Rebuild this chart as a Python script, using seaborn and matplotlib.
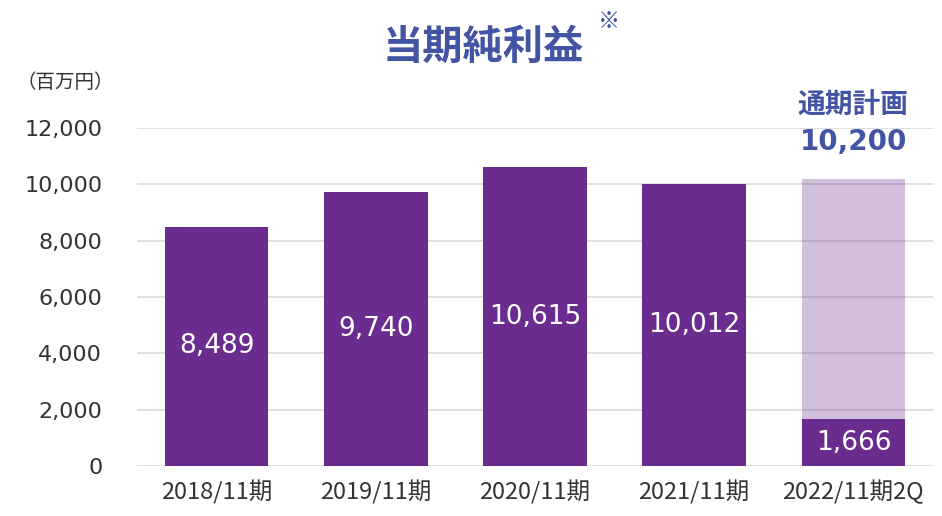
import matplotlib
matplotlib.use("Agg")
import matplotlib.pyplot as plt
import seaborn as sns
import pandas as pd

# data
periods = ["2018/11期", "2019/11期", "2020/11期", "2021/11期", "2022/11期2Q"]
net_income = [8489, 9740, 10615, 10012, 1666]
plan_period = "2022/11期2Q"
plan_value = 10200
y_ticks = [0, 2000, 4000, 6000, 8000, 10000, 12000]

DARK = "#6a2c8e"
BLUE = "#4454a4"
JP = ["Noto Sans CJK JP", "DejaVu Sans"]

sns.set_theme(style="white")
plt.rcParams["font.family"] = JP

df = pd.DataFrame({"period": periods, "value": net_income})
plan_df = pd.DataFrame({"period": [plan_period], "value": [plan_value]})

fig = plt.figure(figsize=(9.42, 5.16), dpi=100)
ax = fig.add_axes([137 / 942, 1 - 466 / 516, (933 - 137) / 942, (466 - 128) / 516])

# plan bar (light, behind) then actual bars
sns.barplot(data=plan_df, x="period", y="value", order=periods, color=DARK,
            alpha=0.3, width=0.65, saturation=1, linewidth=0, ax=ax)
sns.barplot(data=df, x="period", y="value", order=periods, color=DARK,
            width=0.65, saturation=1, linewidth=0, ax=ax)

ax.set_ylim(0, 12000)
ax.set_xlim(-0.5, 4.5)
ax.set_yticks(y_ticks)
ax.set_yticklabels([f"{v:,}" for v in y_ticks], family="DejaVu Sans",
                   fontsize=16, color="#333333")
ax.set_xticks(range(len(periods)))
ax.set_xticklabels(periods, fontsize=17, color="#333333")
ax.tick_params(axis="y", length=0, pad=25)
ax.tick_params(axis="x", length=0, pad=10)
ax.yaxis.grid(True, color="#d9d9d9", linewidth=1.2)
ax.set_axisbelow(True)
for s in ax.spines.values():
    s.set_visible(False)
ax.set_xlabel("")
ax.set_ylabel("")

# value labels inside the bars
for i, v in enumerate(net_income):
    ax.text(i, v / 2, f"{v:,}", ha="center", va="center", color="white",
            fontsize=19, family="DejaVu Sans")

# plan annotation
pi = periods.index(plan_period)
ax.text(pi, plan_value + 1300, f"{plan_value:,}", ha="center", va="center",
        color=BLUE, fontsize=20, fontweight="bold", family="DejaVu Sans")
ax.text(pi, plan_value + 2580, "通期計画", ha="center", va="center",
        color=BLUE, fontsize=20, fontweight="bold")

# title and unit
fig.text(483 / 942, 1 - 47 / 516, "当期純利益", ha="center", va="center",
         color=BLUE, fontsize=29, fontweight="bold")
fig.text(609 / 942, 1 - 21 / 516, "※", ha="center", va="center",
         color=BLUE, fontsize=16)
fig.text(16 / 942, 1 - 82 / 516, "（百万円）", ha="left", va="center",
         color="#333333", fontsize=14)

fig.savefig("out.png", dpi=100)
